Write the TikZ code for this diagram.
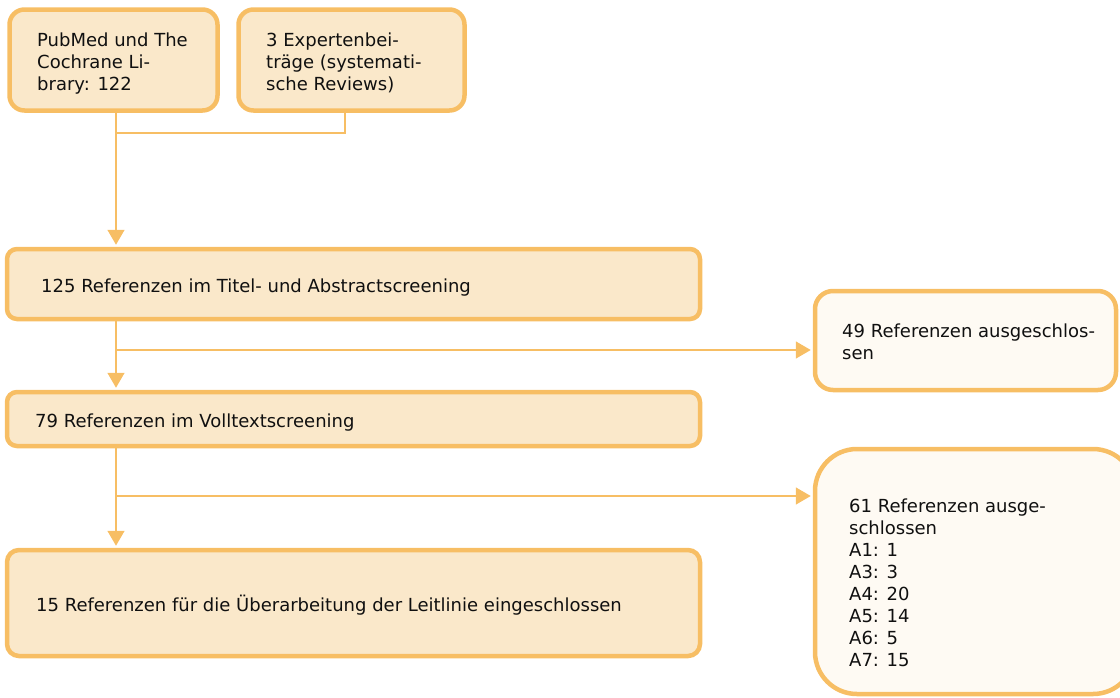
\documentclass[tikz,border=0pt]{standalone}
\usepackage{fontspec}
\setmainfont{DejaVu Sans}
\usetikzlibrary{arrows.meta}
\definecolor{edge}{HTML}{F7BE64}
\definecolor{boxfill}{HTML}{FAE8CA}
\definecolor{palefill}{HTML}{FEFAF3}
\definecolor{ink}{HTML}{101010}
\tikzset{
  box/.style={draw=edge, line width=4.5pt, fill=boxfill, rectangle, inner sep=0pt},
  palebox/.style={box, fill=palefill},
  label/.style={anchor=base west, inner sep=0pt, text=ink,
    font=\fontsize{18}{22}\selectfont},
  link/.style={draw=edge, line width=1.5pt},
  flow/.style={link, shorten >=2pt, -{Triangle[length=15pt,width=17pt]}},
}
\newcommand{\lines}[1]{\parbox[t]{300pt}{\raggedright #1}}
\begin{document}
\begin{tikzpicture}[x=1pt, y=-1pt]
\useasboundingbox (0,0) rectangle (1120,697);
\clip (0,0) rectangle (1120,697);

% sources
\node[box, rounded corners=15pt, minimum width=208pt, minimum height=101pt] (b1) at (113.5,60) {};
\node[box, rounded corners=15pt, minimum width=226pt, minimum height=101pt] (b2) at (351.5,60) {};
% screening stages
\node[box, rounded corners=10pt, minimum width=693pt, minimum height=70pt] (b3) at (353.5,284) {};
\node[box, rounded corners=10pt, minimum width=693pt, minimum height=54pt] (b4) at (353.5,419) {};
\node[box, rounded corners=12pt, minimum width=693pt, minimum height=106pt] (b7) at (353.5,603) {};
% exclusions
\node[palebox, rounded corners=18pt, minimum width=301pt, minimum height=99pt] (b5) at (965.5,340.5) {};
\node[palebox, rounded corners=42pt, minimum width=320pt, minimum height=245pt] (b6) at (975,571.5) {};

% texts
\node[label] (t1) at (37,46) {\lines{PubMed und The\\Cochrane Li-\\brary: 122}};
\node[label] (t2) at (266,46) {\lines{3 Expertenbei-\\träge (systemati-\\sche Reviews)}};
\node[label] (t3) at (41,292) {125 Referenzen im Titel- und Abstractscreening};
\node[label] (t4) at (35,427) {79 Referenzen im Volltextscreening};
\node[label] (t7) at (36,611) {15 Referenzen für die Überarbeitung der Leitlinie eingeschlossen};
\node[label] (t5) at (842,337) {\lines{49 Referenzen ausgeschlos-\\sen}};
\node[label] (t6) at (849,512) {\lines{61 Referenzen ausge-\\schlossen\\A1: 1\\A3: 3\\A4: 20\\A5: 14\\A6: 5\\A7: 15}};

% connector positions
\coordinate (trunk) at (116,0);
\coordinate (tap2) at (345,0);
\coordinate (join) at (0,133);
\coordinate (out1) at (0,350);
\coordinate (out2) at (0,496);

% connectors
\draw[link] (tap2 |- b2.south) |- (trunk |- join);
\draw[flow] (trunk |- b1.south) -- (trunk |- b3.north);
\draw[flow] (trunk |- b3.south) -- (trunk |- b4.north);
\draw[flow] (trunk |- out1) -- (b5.west |- out1);
\draw[flow] (trunk |- b4.south) -- (trunk |- b7.north);
\draw[flow] (trunk |- out2) -- (b6.west |- out2);
\end{tikzpicture}
\end{document}
